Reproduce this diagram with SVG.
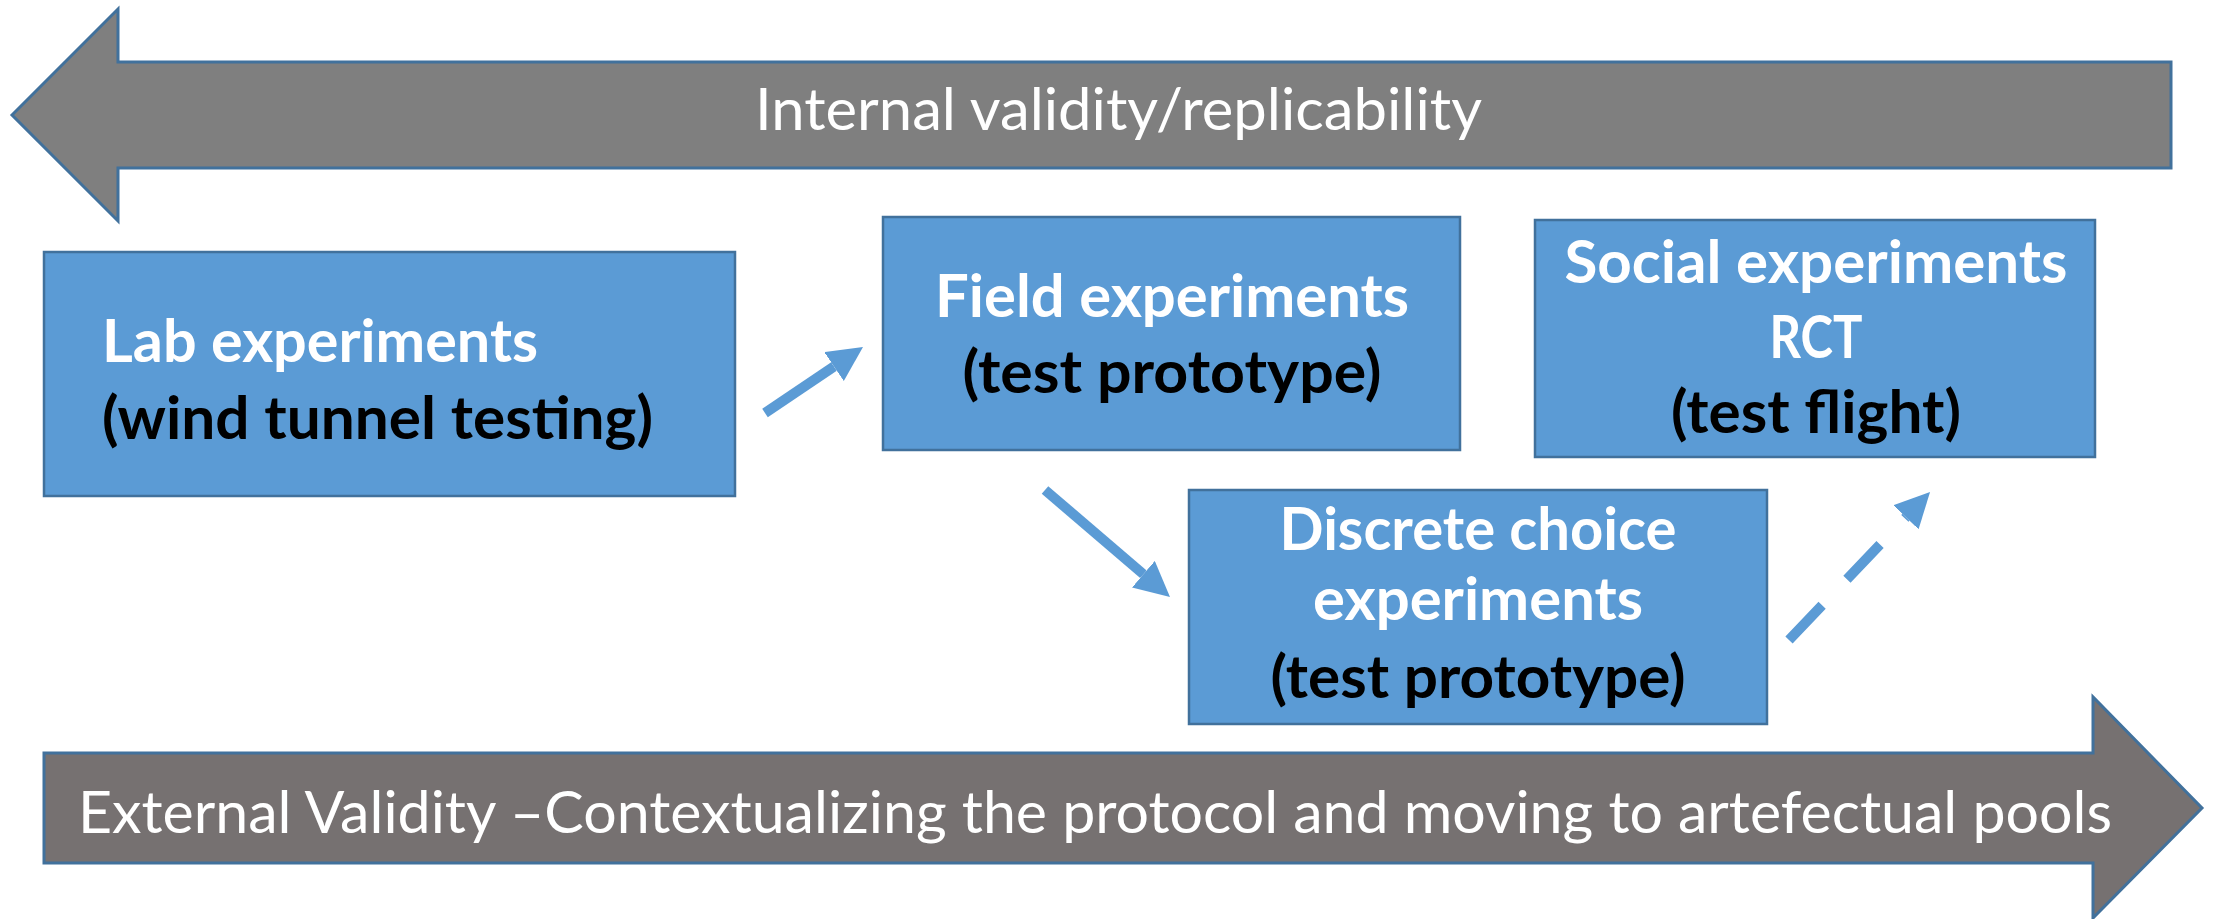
<svg xmlns="http://www.w3.org/2000/svg" width="2220" height="919" viewBox="0 0 2220 919">
<style>
.band{stroke:#41719C;stroke-width:3;stroke-linejoin:miter}
.box{fill:#5B9BD5;stroke:#41719C;stroke-width:2.5}
.bandtxt{font-family:Lato,"Open Sans",sans-serif;font-size:58px;fill:#FFFFFF}
.w{font-family:Lato,"Open Sans",sans-serif;font-weight:bold;font-size:60px;fill:#FFFFFF}
.k{font-family:Lato,"Open Sans",sans-serif;font-weight:bold;font-size:60px;fill:#000000}
.conn{stroke:#5B9BD5;stroke-width:10;fill:none}
</style>
<defs>
<marker id="head" markerUnits="userSpaceOnUse" markerWidth="36" markerHeight="36" refX="0" refY="17.5" orient="auto" viewBox="0 0 36 36">
<path d="M0,0 L35,17.5 L0,35 Z" fill="#5B9BD5"/>
</marker>
</defs>
<rect width="2220" height="919" fill="#FFFFFF"/>
<g id="internal-validity">
<polygon class="band" fill="#7F7F7F" points="12,115 118,9 118,62 2171,62 2171,168 118,168 118,221"/>
<text class="bandtxt" x="755" y="130" textLength="727" lengthAdjust="spacingAndGlyphs">Internal validity/replicability</text>
</g>
<g id="external-validity">
<polygon class="band" fill="#767171" points="44,753 2093,753 2093,697 2202,808 2093,918 2093,863 44,863"/>
<text class="bandtxt" x="78" y="833" textLength="2034" lengthAdjust="spacingAndGlyphs">External Validity –Contextualizing the protocol and moving to artefectual pools</text>
</g>
<g id="lab">
<rect class="box" x="44" y="252" width="691" height="244"/>
<text class="w" x="102" y="362" textLength="436" lengthAdjust="spacingAndGlyphs">Lab experiments</text>
<text class="k" x="102" y="439" textLength="551" lengthAdjust="spacingAndGlyphs">(wind tunnel testing)</text>
</g>
<g id="field">
<rect class="box" x="883" y="217" width="577" height="233"/>
<text class="w" x="1172" y="317" text-anchor="middle" textLength="474" lengthAdjust="spacingAndGlyphs">Field experiments</text>
<text class="k" x="1172" y="393" text-anchor="middle" textLength="419" lengthAdjust="spacingAndGlyphs">(test prototype)</text>
</g>
<g id="social">
<rect class="box" x="1535" y="220" width="560" height="237"/>
<text class="w" x="1816" y="283" text-anchor="middle" textLength="503" lengthAdjust="spacingAndGlyphs">Social experiments</text>
<text class="w" x="1816" y="358" text-anchor="middle" textLength="93" lengthAdjust="spacingAndGlyphs">RCT</text>
<text class="k" x="1816" y="433" text-anchor="middle" textLength="290" lengthAdjust="spacingAndGlyphs">(test flight)</text>
</g>
<g id="discrete">
<rect class="box" x="1189" y="490" width="578" height="234"/>
<text class="w" x="1478" y="550" text-anchor="middle" textLength="397" lengthAdjust="spacingAndGlyphs">Discrete choice</text>
<text class="w" x="1478" y="620" text-anchor="middle" textLength="330" lengthAdjust="spacingAndGlyphs">experiments</text>
<text class="k" x="1478" y="698" text-anchor="middle" textLength="415" lengthAdjust="spacingAndGlyphs">(test prototype)</text>
</g>
<g id="connectors">
<line class="conn" x1="765" y1="413" x2="834" y2="366.5" marker-end="url(#head)"/>
<line class="conn" x1="1045" y1="490" x2="1143.4" y2="574.2" marker-end="url(#head)"/>
<line class="conn" x1="1789" y1="640" x2="1905.9" y2="517.3" stroke-dasharray="48 36" marker-end="url(#head)"/>
</g>
</svg>
